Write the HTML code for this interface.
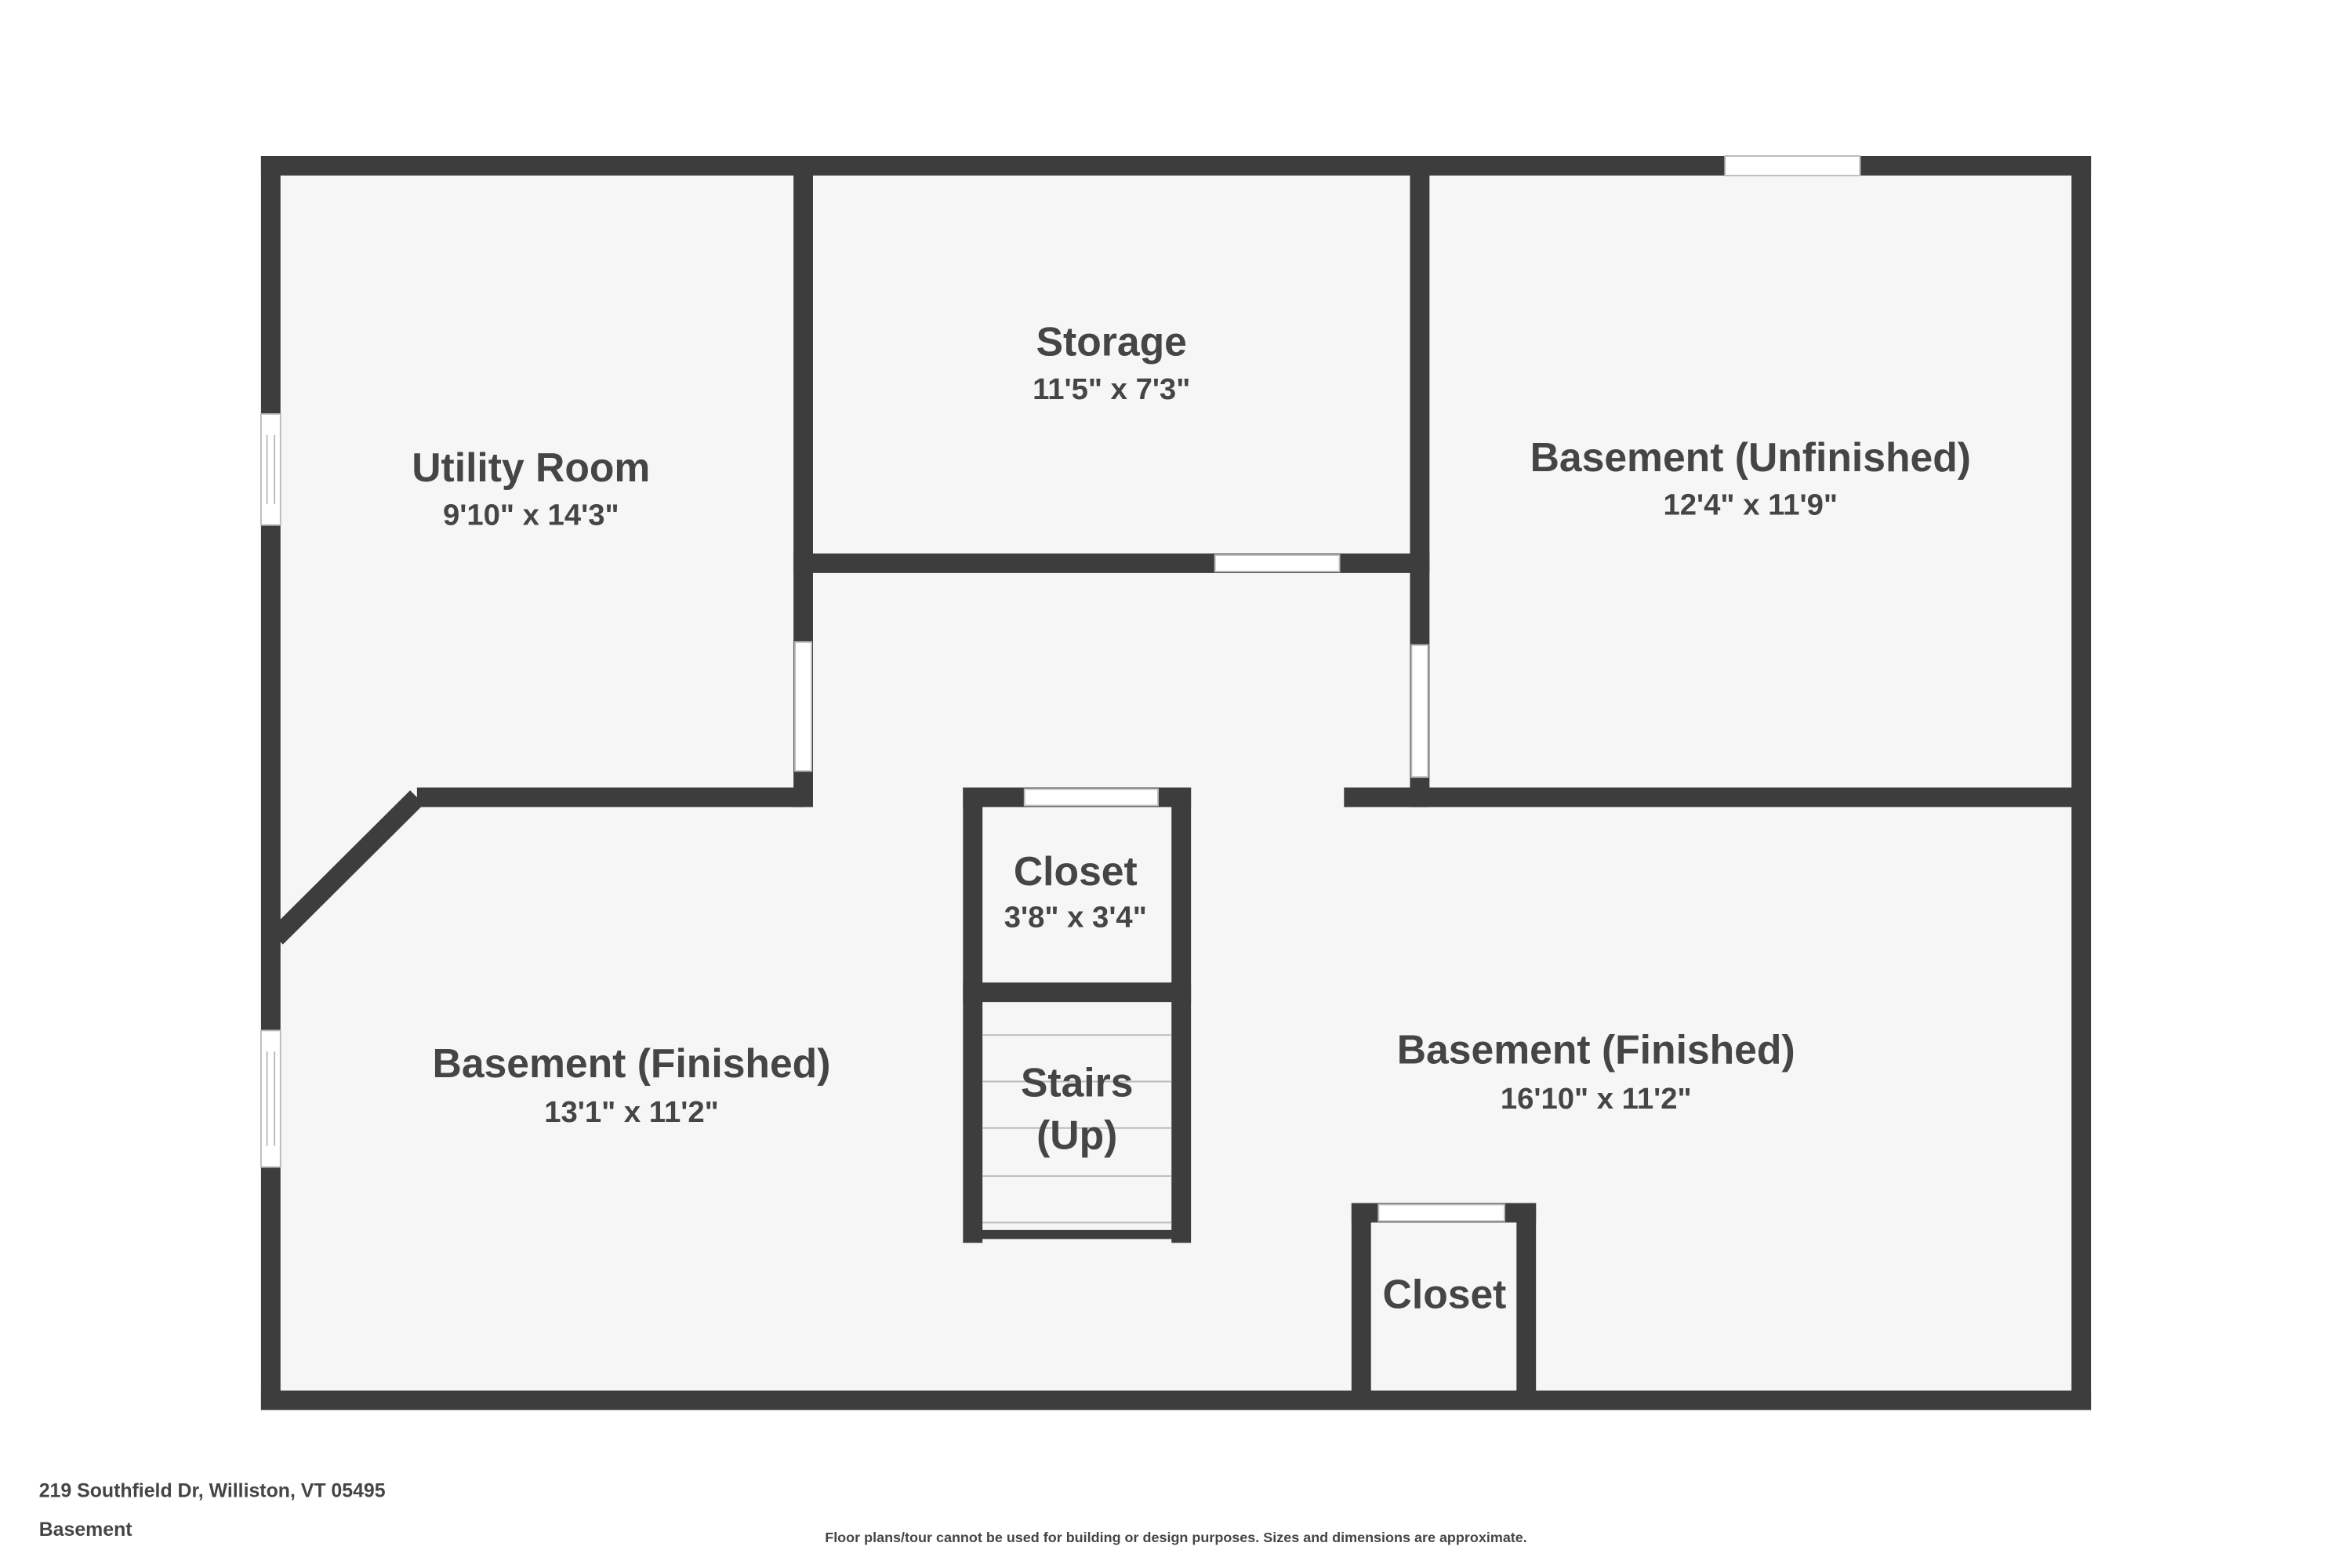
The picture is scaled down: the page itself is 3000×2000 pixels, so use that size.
<!DOCTYPE html>
<html><head><meta charset="utf-8"><style>
html,body{margin:0;padding:0;background:#fff;width:3000px;height:2000px;overflow:hidden}
svg{display:block}
text{font-family:"Liberation Sans",sans-serif;font-weight:bold;fill:#454545;text-anchor:middle}
</style></head><body>
<svg width="3000" height="2000" viewBox="0 0 1568 1045.3" preserveAspectRatio="none" xmlns="http://www.w3.org/2000/svg">
<rect width="1568" height="1046" fill="#fff"/>
<rect x="180" y="110" width="1208" height="824" fill="#f6f6f6"/>
<g stroke="#3d3d3d" stroke-width="13" fill="none" stroke-linecap="square">
<line x1="180.5" y1="110.5" x2="1387.5" y2="110.5"/>
<line x1="180.5" y1="933.5" x2="1387.5" y2="933.5"/>
<line x1="180.5" y1="110.5" x2="180.5" y2="933.5"/>
<line x1="1387.5" y1="110.5" x2="1387.5" y2="933.5"/>
<line x1="535.5" y1="110.5" x2="535.5" y2="531.5"/>
<line x1="278" y1="531.5" x2="535.5" y2="531.5" stroke-linecap="butt"/>
<line x1="278" y1="531.5" x2="184" y2="625" stroke-linecap="butt"/>
<line x1="535.5" y1="375.5" x2="946.5" y2="375.5"/>
<line x1="946.5" y1="110.5" x2="946.5" y2="531.5"/>
<line x1="896" y1="531.5" x2="1387.5" y2="531.5" stroke-linecap="butt"/>
<line x1="648.5" y1="531.5" x2="648.5" y2="822"/>
<line x1="787.5" y1="531.5" x2="787.5" y2="822"/>
<line x1="648.5" y1="531.5" x2="787.5" y2="531.5"/>
<line x1="648.5" y1="661.5" x2="787.5" y2="661.5"/>
<line x1="648.5" y1="823" x2="787.5" y2="823" stroke-width="6" stroke-linecap="butt"/>
<line x1="907.5" y1="808.5" x2="907.5" y2="933.5"/>
<line x1="1017.5" y1="808.5" x2="1017.5" y2="933.5"/>
<line x1="907.5" y1="808.5" x2="1017.5" y2="808.5"/>
</g>
<g fill="#fff" stroke="#bbb" stroke-width="1">
<rect x="1150" y="104" width="90" height="13"/>
<rect x="174" y="276" width="13" height="74"/>
<rect x="174" y="687" width="13" height="91"/>
<rect x="530" y="428" width="11" height="86"/>
<rect x="810" y="370" width="83" height="11"/>
<rect x="941" y="430" width="11" height="88"/>
<rect x="683" y="526" width="89" height="11"/>
<rect x="919" y="803" width="84" height="11"/>
</g>
<g stroke="#bbb" stroke-width="1">
<line x1="178" y1="290" x2="178" y2="336"/><line x1="183" y1="290" x2="183" y2="336"/>
<line x1="178" y1="701" x2="178" y2="764"/><line x1="183" y1="701" x2="183" y2="764"/>
<line x1="655" y1="690" x2="781" y2="690"/>
<line x1="655" y1="721" x2="781" y2="721"/>
<line x1="655" y1="752" x2="781" y2="752"/>
<line x1="655" y1="784" x2="781" y2="784"/>
<line x1="655" y1="815" x2="781" y2="815"/>
</g>
<text x="354" y="321" font-size="27">Utility Room</text>
<text x="354" y="350" font-size="20">9'10" x 14'3"</text>
<text x="741" y="237" font-size="27">Storage</text>
<text x="741" y="266" font-size="20">11'5" x 7'3"</text>
<text x="1167" y="314" font-size="27">Basement (Unfinished)</text>
<text x="1167" y="343" font-size="20">12'4" x 11'9"</text>
<text x="717" y="590" font-size="27">Closet</text>
<text x="717" y="618" font-size="20">3'8" x 3'4"</text>
<text x="718" y="731" font-size="27">Stairs</text>
<text x="718" y="766" font-size="27">(Up)</text>
<text x="421" y="718" font-size="27">Basement (Finished)</text>
<text x="421" y="748" font-size="20">13'1" x 11'2"</text>
<text x="1064" y="709" font-size="27">Basement (Finished)</text>
<text x="1064" y="739" font-size="20">16'10" x 11'2"</text>
<text x="963" y="872" font-size="27">Closet</text>
<text x="26" y="998" font-size="13" style="text-anchor:start">219 Southfield Dr, Williston, VT 05495</text>
<text x="26" y="1024" font-size="13" style="text-anchor:start">Basement</text>
<text x="784" y="1028" font-size="9.4">Floor plans/tour cannot be used for building or design purposes. Sizes and dimensions are approximate.</text>
</svg>
</body></html>
